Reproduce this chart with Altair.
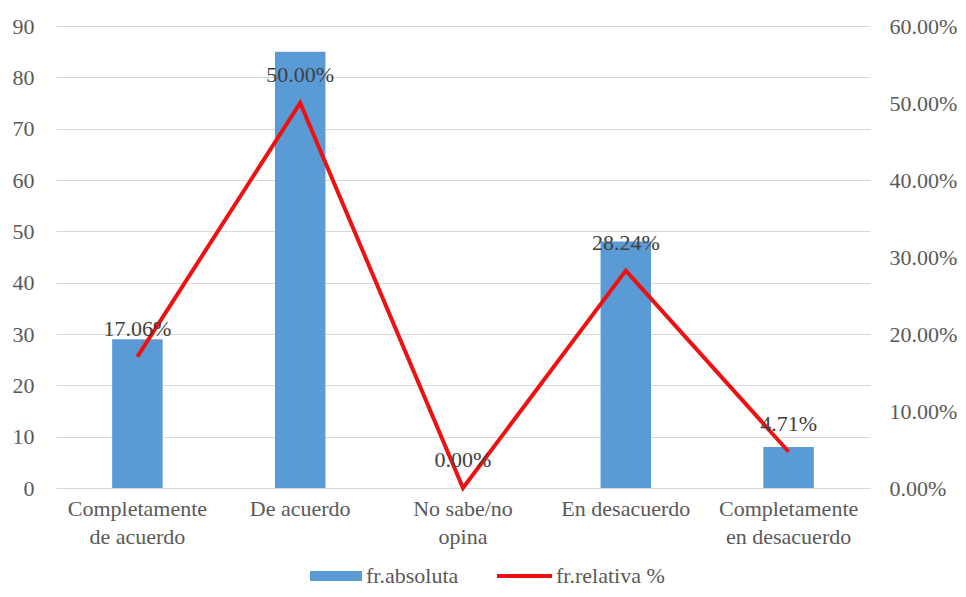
import altair as alt
import pandas as pd

categories = ["Completamente\nde acuerdo", "De acuerdo", "No sabe/no\nopina",
              "En desacuerdo", "Completamente\nen desacuerdo"]
abs_values = [29, 85, 0, 48, 8]
rel_values = [0.1706, 0.5000, 0.0000, 0.2824, 0.0471]
abs_ticks = [0, 10, 20, 30, 40, 50, 60, 70, 80, 90]
rel_ticks = [0.0, 0.1, 0.2, 0.3, 0.4, 0.5, 0.6]
legend_labels = ["fr.absoluta", "fr.relativa %"]

df = pd.DataFrame({"cat": categories, "abs": abs_values, "rel": rel_values})

FONT = "Liberation Serif"
FS = 22
BLUE = "#5B9BD5"
RED = "#EE1111"
GRAY = "#595959"

x_enc = alt.X("cat:N", sort=categories, title=None,
              scale=alt.Scale(paddingInner=0.69, paddingOuter=0.345),
              axis=alt.Axis(labelExpr="split(datum.label, '\\n')", labelAngle=0,
                            labelFont=FONT, labelFontSize=FS, labelColor=GRAY,
                            labelLineHeight=28, labelPadding=10, ticks=False,
                            domainColor="#D9D9D9", labelBaseline="top"))

base = alt.Chart(df)

bars = base.mark_bar(color=BLUE).encode(
    x=x_enc,
    y=alt.Y("abs:Q", title=None, scale=alt.Scale(domain=[0, 90], nice=False),
            axis=alt.Axis(values=abs_ticks, grid=True, gridColor="#D9D9D9",
                          domain=False, ticks=False, labelFont=FONT,
                          labelFontSize=FS, labelColor=GRAY, labelPadding=22)),
)

y_rel = alt.Y("rel:Q", title=None, scale=alt.Scale(domain=[0, 0.6], nice=False),
              axis=alt.Axis(orient="right", values=rel_ticks, format=".2%",
                            grid=False, domain=False, ticks=False,
                            labelFont=FONT, labelFontSize=FS, labelColor=GRAY,
                            labelPadding=19))

line = base.mark_line(color=RED, strokeWidth=4).encode(x=x_enc, y=y_rel)
labels = base.mark_text(dy=-28, baseline="middle", font=FONT, fontSize=FS,
                        color="#404040").encode(
    x=x_enc, y=y_rel, text=alt.Text("rel:Q", format=".2%"))

rel_layer = alt.layer(line, labels)

leg = alt.Chart(pd.DataFrame({"label": legend_labels}))
leg_rect = leg.transform_filter(alt.datum.label == legend_labels[0]).mark_rect(color=BLUE).encode(
    x=alt.value(254), x2=alt.value(306), y=alt.value(545), y2=alt.value(555))
leg_rule = leg.transform_filter(alt.datum.label == legend_labels[1]).mark_rule(color=RED, strokeWidth=4).encode(
    x=alt.value(441), x2=alt.value(496), y=alt.value(550))
leg_t1 = leg.transform_filter(alt.datum.label == legend_labels[0]).mark_text(
    align="left", baseline="middle", font=FONT, fontSize=FS, color=GRAY).encode(
    x=alt.value(310), y=alt.value(550), text="label:N")
leg_t2 = leg.transform_filter(alt.datum.label == legend_labels[1]).mark_text(
    align="left", baseline="middle", font=FONT, fontSize=FS, color=GRAY).encode(
    x=alt.value(500), y=alt.value(550), text="label:N")

chart = alt.layer(bars, rel_layer, leg_rect, leg_rule, leg_t1, leg_t2).resolve_scale(
    y="independent"
).properties(
    width=814, height=462,
    autosize=alt.AutoSizeParams(type="none"),
    padding={"left": 48, "top": 18, "right": 88, "bottom": 101},
).configure_view(stroke=None)

chart.save("out.html", embed_options={"renderer": "svg", "actions": False})
